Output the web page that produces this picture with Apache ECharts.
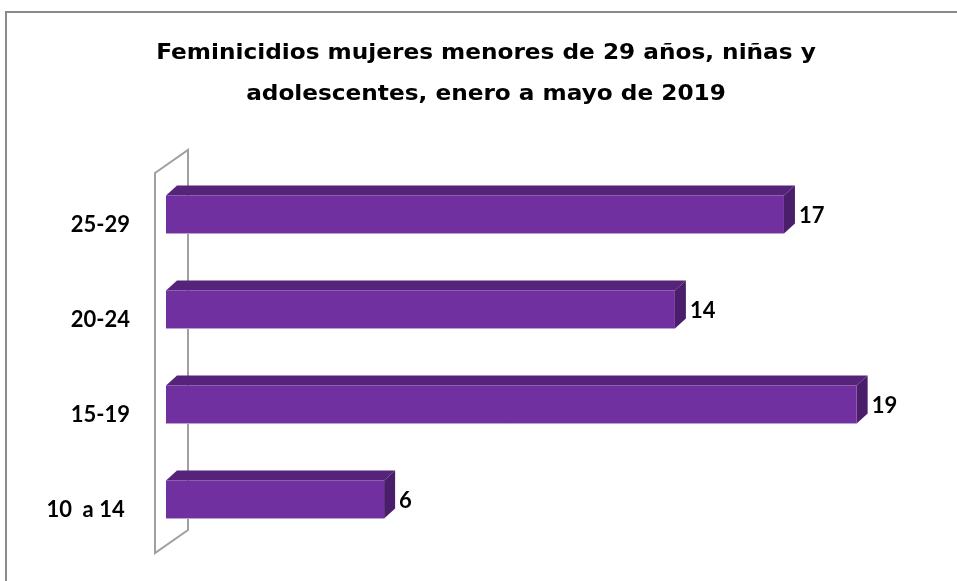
<!DOCTYPE html>
<html>
<head>
<meta charset="utf-8">
<script src="https://cdn.jsdelivr.net/npm/echarts@6/dist/echarts.min.js"></script>
<style>
html,body{margin:0;padding:0;background:#fff;}
#chart{width:957px;height:581px;}
</style>
</head>
<body>
<div id="chart"></div>
<script>
const categories = ['10  a 14 ', '15-19', '20-24', '25-29'];
const values = [6, 19, 14, 17];
const titleText = 'Feminicidios mujeres menores de 29 años, niñas y\nadolescentes, enero a mayo de 2019';

const GRID = {left: 166, top: 167, width: 727, height: 380};
const BAR_H = 38, DX = 11, DY = 10;
const FONT = 'Lato';
const TITLE_FONT = 'DejaVu Sans';

const chart = echarts.init(document.getElementById('chart'), null, {renderer: 'canvas'});

function renderBar(params, api) {
  const v = api.value(0);
  const c = api.value(1);
  const s = api.coord([0, c]);
  const e = api.coord([v, c]);
  const x0 = s[0], x1 = e[0];
  const y0 = s[1] - BAR_H / 2, y1 = s[1] + BAR_H / 2;
  return {
    type: 'group',
    children: [
      {type: 'polygon', shape: {points: [[x0, y0], [x0 + DX, y0 - DY], [x1 + DX, y0 - DY], [x1, y0]]},
       style: {fill: '#55247A'}},
      {type: 'polygon', shape: {points: [[x1, y0], [x1 + DX, y0 - DY], [x1 + DX, y1 - DY], [x1, y1]]},
       style: {fill: '#4A1E6B'}},
      {type: 'rect', shape: {x: x0, y: y0, width: x1 - x0, height: BAR_H},
       style: {fill: '#7030A0'}},
      {type: 'line', shape: {x1: x0, y1: y1, x2: x1, y2: y1},
       style: {stroke: '#B9A0CF', lineWidth: 1}},
      {type: 'text', x: x1 + DX + 4, y: s[1] + 1,
       style: {text: String(v), fill: '#000', font: 'bold 22px "' + FONT + '"', verticalAlign: 'middle', align: 'left'}}
    ]
  };
}

const fx = GRID.left - 11, bx = GRID.left + 22;
const wallPts = [
  [fx, GRID.top + 6], [bx, GRID.top - 17],
  [bx, GRID.top + GRID.height - 17], [fx, GRID.top + GRID.height + 6]
];

chart.setOption({
  backgroundColor: '#fff',
  animation: false,
  graphic: [
    {type: 'rect', z: 0, shape: {x: 6, y: 12, width: 1000, height: 1000},
     style: {fill: 'none', stroke: '#8A8A8A', lineWidth: 2}},
    {type: 'polygon', z: 0, shape: {points: wallPts},
     style: {fill: 'none', stroke: '#A0A0A0', lineWidth: 2}},
    {type: 'text', z: 10, x: 486, y: 33.5, scaleX: 1.105, scaleY: 1,
     style: {text: titleText, fill: '#000', font: 'bold 21px "' + TITLE_FONT + '"',
             lineHeight: 41, align: 'center', verticalAlign: 'top'}}
  ],
  grid: {left: GRID.left, top: GRID.top, width: GRID.width, height: GRID.height, containLabel: false},
  xAxis: {type: 'value', min: 0, max: 20, show: false, splitLine: {show: false}},
  yAxis: {
    type: 'category', data: categories,
    axisLine: {show: false}, axisTick: {show: false}, splitLine: {show: false},
    axisLabel: {
      margin: 36, color: '#000', fontFamily: FONT, fontWeight: 'bold', fontSize: 22, lineHeight: 20,
      formatter: v => '\n' + v
    }
  },
  series: [{
    type: 'custom',
    renderItem: renderBar,
    encode: {x: 0, y: 1},
    data: values.map((v, i) => [v, i]),
    z: 5
  }]
});
</script>
</body>
</html>
